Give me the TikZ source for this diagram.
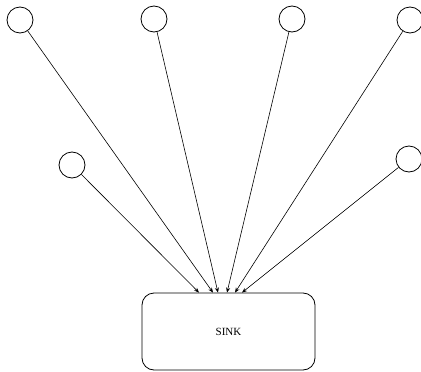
\documentclass[tikz,border=0pt]{standalone}
\usepackage{fontspec}
\setmainfont{Liberation Serif}
\usetikzlibrary{arrows.meta, positioning}

\begin{document}
\begin{tikzpicture}[x=1pt, y=-1pt,
	src/.style={circle, draw, line width=0.8pt, minimum size=26pt, inner sep=0pt},
	sinkbox/.style={rectangle, draw, line width=0.8pt, rounded corners=12pt, minimum width=173pt, minimum height=77pt, font=\fontsize{11}{13}\selectfont},
	edge/.style={-{Stealth[length=5pt, width=4pt]}, line width=0.6pt}]
			\useasboundingbox (0,0) rectangle (421,372);
			%top row
			\node[src](a) at (20,20){};
			\node[src](b) at (154,19){};
			\node[src](c) at (292,19){};
			\node[src](d) at (410,20){};
			%middle row
			\node[src](e) at (72,165){};
			\node[src](f) at (409,159){};
			%sink
			\node[sinkbox](sink) at (228.5,331.5){SINK};
			%edges into the sink
			\draw[edge] (e) -- ([xshift=-29.5pt]sink.north);
			\draw[edge] (a) -- ([xshift=-15.5pt]sink.north);
			\draw[edge] (b) -- ([xshift=-10.5pt]sink.north);
			\draw[edge] (c) -- ([xshift=-1.5pt]sink.north);
			\draw[edge] (d) -- ([xshift=6.5pt]sink.north);
			\draw[edge] (f) -- ([xshift=13.5pt]sink.north);
\end{tikzpicture}
\end{document}
